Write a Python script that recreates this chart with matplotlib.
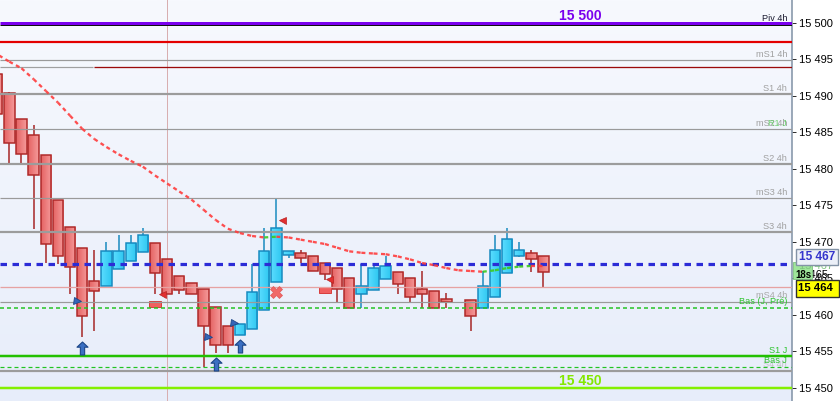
import matplotlib
matplotlib.use("Agg")
import matplotlib.pyplot as plt
import numpy as np
from matplotlib.patches import Rectangle
from matplotlib.transforms import blended_transform_factory
from matplotlib.path import Path
from matplotlib.colors import LinearSegmentedColormap

plt.rcParams['lines.scale_dashes'] = False
plt.rcParams['font.family'] = ['Liberation Sans', 'DejaVu Sans']

# ---------------- data ----------------
bar_index = list(range(-1, 37)) + list(range(38, 45))
opens = [15493.0, 15490.4, 15486.9, 15484.6, 15481.9, 15475.7, 15472.0, 15469.2, 15464.6, 15464.0,
         15466.3, 15467.4, 15468.6, 15469.8, 15467.7, 15465.3, 15464.3, 15463.6, 15461.0, 15458.5,
         15457.2, 15458.0, 15460.6, 15464.5, 15468.2, 15468.4, 15468.1, 15467.1, 15466.4, 15465.0,
         15462.9, 15463.4, 15464.9, 15465.8, 15465.0, 15463.6, 15463.3, 15462.2,
         15462.0, 15460.9, 15462.4, 15465.7, 15468.0, 15468.5, 15468.1]
highs = [15493.0, 15490.5, 15486.9, 15486.0, 15481.9, 15475.7, 15472.0, 15469.2, 15468.9, 15470.0,
         15470.9, 15470.9, 15471.9, 15469.8, 15467.7, 15465.3, 15464.3, 15463.6, 15461.0, 15458.5,
         15458.8, 15466.9, 15471.9, 15475.9, 15468.8, 15468.9, 15468.1, 15467.1, 15466.4, 15465.0,
         15466.9, 15466.9, 15468.0, 15465.8, 15465.0, 15466.0, 15463.3, 15463.0,
         15462.0, 15466.0, 15470.9, 15471.9, 15470.0, 15468.9, 15468.1]
lows = [15487.5, 15480.8, 15480.8, 15471.8, 15467.1, 15467.0, 15462.8, 15456.9, 15457.8, 15464.0,
        15466.3, 15467.4, 15468.6, 15462.9, 15462.9, 15462.9, 15462.9, 15452.8, 15454.8, 15454.8,
        15457.2, 15458.0, 15460.6, 15464.5, 15467.8, 15467.1, 15466.0, 15464.8, 15461.8, 15460.9,
        15460.9, 15463.4, 15464.9, 15462.8, 15461.8, 15460.9, 15460.9, 15460.9,
        15457.8, 15460.9, 15462.4, 15465.7, 15467.9, 15465.9, 15463.8]
closes = [15487.5, 15483.6, 15482.1, 15479.1, 15469.7, 15468.1, 15466.6, 15459.9, 15463.3, 15468.7,
          15468.7, 15469.9, 15470.9, 15465.7, 15462.9, 15463.4, 15462.9, 15458.4, 15455.8, 15455.8,
          15458.8, 15463.1, 15468.7, 15471.9, 15468.7, 15467.8, 15466.0, 15465.6, 15463.6, 15460.9,
          15463.9, 15466.4, 15466.7, 15464.2, 15462.4, 15462.9, 15460.9, 15461.8,
          15459.9, 15463.9, 15468.9, 15470.4, 15468.9, 15467.6, 15465.9]

ma_index = list(range(-1, 45))
ma_values = [15495.7, 15494.7, 15493.8, 15492.3, 15490.7, 15489.1, 15487.3, 15485.5, 15484.1, 15483.0,
             15482.0, 15481.1, 15480.3, 15479.1, 15478.0, 15476.9, 15475.8, 15474.4, 15473.0, 15471.8,
             15471.2, 15470.8, 15470.6, 15470.7, 15470.6, 15470.3, 15470.0, 15469.7, 15469.2, 15468.7,
             15468.5, 15468.4, 15468.3, 15468.0, 15467.6, 15467.1, 15466.8, 15466.4, 15466.1, 15466.0,
             15465.9, 15466.1, 15466.4, 15466.6, 15466.7, 15466.7]

# level lines
piv_4h = 15500.0
red_level = 15497.4
ms1_4h = 15494.9
darkred_level = 15493.9
s1_4h = 15490.3
ms2_4h = 15485.5
s2_4h = 15480.7
ms3_4h = 15476.0
s3_4h = 15471.3
blue_level = 15467.0
pink_level = 15463.8
ms4_4h = 15461.7
bas_j_pre = 15460.9
s1_j = 15454.3
bas_j = 15452.8
s4_4h = 15452.3
green_level = 15450.0

# markers
arrow_idx = [6, 17, 19]
arrow_val = [15455.4, 15453.3, 15455.7]
flag_idx = [5.6, 16.4, 18.5]
flag_val = [15461.9, 15457.0, 15458.9]
redtri_idx = [12.6, 22.5, 26.3]
redtri_val = [15462.9, 15473.0, 15464.9]
cross_idx = [22.0]
cross_val = [15463.1]
box_idx = [12, 26]
box_low = [15461.0, 15463.0]
box_high = [15461.9, 15463.8]
vline_idx = 13

y_ticks = list(range(15450, 15501, 5))

# ---------------- figure ----------------
W, H = 840, 401
fig = plt.figure(figsize=(W / 100, H / 100), dpi=100, facecolor='white')
ax = fig.add_axes([0, 0, 792 / W, 1])
PX = 0.72  # points per pixel

xl = (-0.766, 64.47)
yl = (15448.18, 15503.15)
ax.set_xlim(*xl)
ax.set_ylim(*yl)

# background gradient
cmap_bg = LinearSegmentedColormap.from_list('bg', ['#E7EDFA', '#F7F9FE'])
ax.imshow(np.linspace(0, 1, 256).reshape(-1, 1), cmap=cmap_bg, origin='lower',
          extent=[0, 1, 0, 1], transform=ax.transAxes, aspect='auto', zorder=0)

# vertical line
ax.axvline(vline_idx, color='#D8AEB0', lw=1 * PX, zorder=1)

# candles
cmap_up = LinearSegmentedColormap.from_list('up', ['#5ADDFF', '#2EC6F0'])
cmap_dn = LinearSegmentedColormap.from_list('dn', ['#E56464', '#F59A9A'])
grad = np.linspace(0, 1, 32).reshape(1, -1)
bw = 0.857
for i, o, h, l, c in zip(bar_index, opens, highs, lows, closes):
    up = c >= o
    wick_c = '#1689BF' if up else '#A52222'
    edge = '#1689BF' if up else '#AE2828'
    ax.vlines(i, l, h, color=wick_c, lw=1.5 * PX, zorder=2)
    lo, hi = min(o, c), max(o, c)
    hi = max(hi, lo + 0.05)
    rect = Rectangle((i - bw / 2, lo), bw, hi - lo, facecolor='none',
                     edgecolor=edge, lw=1.5 * PX, zorder=2.2)
    ax.add_patch(rect)
    im = ax.imshow(grad, cmap=cmap_up if up else cmap_dn, aspect='auto',
                   extent=[i - bw / 2, i + bw / 2, lo, hi], zorder=2.1,
                   interpolation='bilinear')
    im.set_clip_path(rect)

ax.set_xlim(*xl)
ax.set_ylim(*yl)

# red flat boxes
for i, lo, hi in zip(box_idx, box_low, box_high):
    ax.add_patch(Rectangle((i - bw / 2 - 0.05, lo), bw + 0.1, hi - lo, facecolor='#F06060',
                           edgecolor='#D84040', lw=1 * PX, zorder=2.3))

# level lines
def hl(v, color, lw, style='-', dashes=None, xmin=None, xmax=None, z=3):
    x0 = xl[0] if xmin is None else xmin
    x1 = xl[1] if xmax is None else xmax
    line, = ax.plot([x0, x1], [v, v], color=color, lw=lw * PX, ls=style, zorder=z,
                    solid_capstyle='butt')
    if dashes is not None:
        line.set_dashes(dashes)
    return line

hl(piv_4h, '#7A00EE', 3.0)
hl(piv_4h - 0.27, '#111111', 1.0)
hl(red_level, '#E40000', 2.2)
hl(ms1_4h, '#9A9A9A', 1.2)
hl(darkred_level, '#A0A0A0', 1.2, xmax=6.9)
hl(darkred_level, '#9B0A0A', 1.3, xmin=6.95)
hl(s1_4h, '#9C9C9C', 2.2)
hl(ms2_4h, '#9A9A9A', 1.2)
hl(s2_4h, '#9C9C9C', 2.2)
hl(ms3_4h, '#9A9A9A', 1.2)
hl(s3_4h, '#9C9C9C', 2.2)
hl(pink_level, '#E6A2A2', 1.3)
hl(ms4_4h, '#9A9A9A', 1.2)
hl(bas_j_pre, '#22C422', 1.5, dashes=(4 * PX, 3 * PX))
hl(s1_j, '#22C000', 2.5)
hl(bas_j, '#22C422', 1.2, dashes=(4 * PX, 3 * PX))
hl(s4_4h, '#9C9C9C', 2.2)
hl(green_level, '#84F000', 2.5)
hl(blue_level, '#2C2CD6', 3.2, dashes=(6.5 * PX, 5.5 * PX), z=3.5)

# moving average, coloured by slope
for k in range(len(ma_index) - 1):
    rising = ma_values[k + 1] > ma_values[k]
    col = '#3CCB1E' if rising else '#FF3C3C'
    ln, = ax.plot(ma_index[k:k + 2], ma_values[k:k + 2], color=col, lw=2.3 * PX,
                  alpha=0.9, zorder=4)
    ln.set_dashes((4 * PX, 3.5 * PX))

# markers
arrow_path = Path([(0, 1), (0.85, 0.2), (0.33, 0.2), (0.33, -1), (-0.33, -1),
                   (-0.33, 0.2), (-0.85, 0.2), (0, 1)],
                  [Path.MOVETO] + [Path.LINETO] * 6 + [Path.CLOSEPOLY])
ax.plot(arrow_idx, arrow_val, ls='none', marker=arrow_path, ms=13 * PX,
        mfc='#3B6FC2', mec='#1D4688', mew=0.8, zorder=5)
ax.plot(flag_idx, flag_val, ls='none', marker='>', ms=7 * PX, mfc='#3565B8',
        mec='#1D4688', mew=0.6, zorder=5)
ax.plot(redtri_idx, redtri_val, ls='none', marker='<', ms=7 * PX, mfc='#E23030',
        mec='#B82020', mew=0.5, zorder=5)
ax.plot(cross_idx, cross_val, ls='none', marker='X', ms=12 * PX, mfc='#F06868',
        mec='#E05858', mew=0.5, zorder=5)

# level labels
tr = blended_transform_factory(ax.transAxes, ax.transData)
xr = 787 / 792
off = 0.4
def lab(v, txt, color, alpha=1.0, dy=off):
    ax.text(xr, v + dy, txt, transform=tr, ha='right', va='baseline', fontsize=6.6,
            color=color, alpha=alpha, zorder=6)

lab(piv_4h, 'Piv 4h', '#1A1A30', dy=0.25)
lab(ms1_4h, 'mS1 4h', '#A0A0A0')
lab(s1_4h, 'S1 4h', '#A0A0A0')
lab(ms2_4h, 'mS2 4h', '#A0A0A0')
lab(ms2_4h, 'R1 J', '#55CC55', alpha=0.8)
lab(s2_4h, 'S2 4h', '#A0A0A0')
lab(ms3_4h, 'mS3 4h', '#A0A0A0')
lab(s3_4h, 'S3 4h', '#A0A0A0')
lab(ms4_4h, 'mS4 4h', '#A8A8A8', dy=0.55)
lab(bas_j_pre, 'Bas (J, Pré)', '#2DC42D', dy=0.55)
lab(s1_j, 'S1 J', '#2DC42D', dy=0.5)
lab(s4_4h, 'S4 4h', '#B0B0B0', alpha=0.7, dy=0.6)
lab(bas_j, 'Bas J', '#2DC42D', dy=0.6)

xc = 580 / 792
ax.text(xc, piv_4h + 0.35, '15 500', transform=tr, ha='center', va='baseline',
        fontsize=10, fontweight='bold', color='#7A00EE', zorder=6)
ax.text(xc, green_level + 0.35, '15 450', transform=tr, ha='center', va='baseline',
        fontsize=10, fontweight='bold', color='#84E800', zorder=6)

# axes styling
for s in ['left', 'top', 'bottom']:
    ax.spines[s].set_visible(False)
ax.spines['right'].set_color('#7D8FA3')
ax.spines['right'].set_linewidth(1.5 * PX)
ax.set_xticks([])
ax.yaxis.tick_right()
ax.set_yticks(y_ticks)
ax.set_yticklabels([f"{v:,}".replace(",", " ") for v in y_ticks])
ax.tick_params(axis='y', length=4 * PX, width=1 * PX, color='#303030', pad=2,
               labelsize=8, labelcolor='#000000')

# right-side price labels (figure pixel coordinates)
def fx(x):
    return x / W
def fy(y):
    return 1 - y / H

fig.text(fx(794), fy(274.5), '15 465', ha='left', va='center', fontsize=8,
         color='#000000', zorder=10)
fig.patches.append(Rectangle((fx(793), fy(279)), 19 / W, 17 / H, transform=fig.transFigure,
                             facecolor='#9FE59A', edgecolor='#80C080', lw=0.6, zorder=11))
fig.text(fx(799), fy(266), '15 467', ha='left', va='center', fontsize=8,
         color='#7FC47F', zorder=11.5)
fig.text(fx(803), fy(274.5), '18s', ha='center', va='center', fontsize=7,
         fontweight='bold', color='#000000', zorder=12)
fig.patches.append(Rectangle((fx(796), fy(265)), 42 / W, 16 / H, transform=fig.transFigure,
                             facecolor='#ECF0F8', edgecolor='#8393A6', lw=1.0, zorder=13))
fig.text(fx(817), fy(257), '15 467', ha='center', va='center', fontsize=8.6,
         fontweight='bold', color='#3434CC', zorder=14)
fig.patches.append(Rectangle((fx(796), fy(296.7)), 43 / W, 16.7 / H,
                             transform=fig.transFigure, facecolor='#FFFF00',
                             edgecolor='#303030', lw=1.0, zorder=13))
fig.text(fx(815.5), fy(288.2), '15 464', ha='center', va='center', fontsize=8.2,
         fontweight='bold', color='#000000', zorder=14)

fig.savefig('out.png', dpi=100, facecolor='white')
